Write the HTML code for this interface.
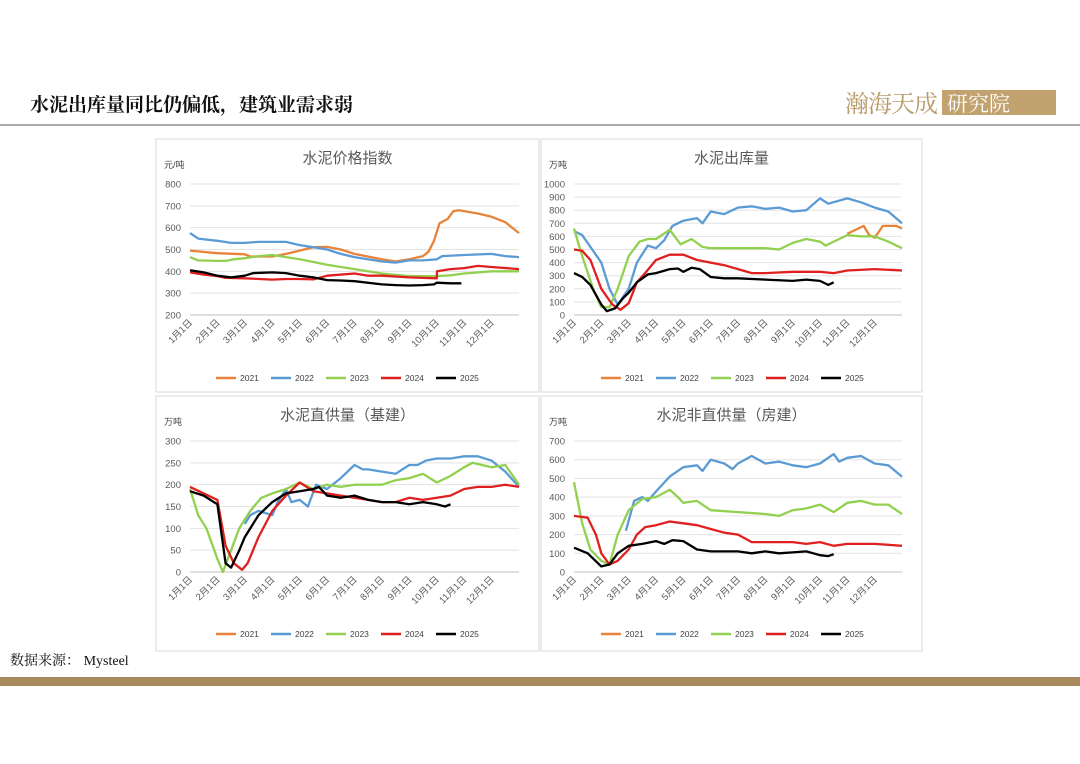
<!DOCTYPE html><html><head><meta charset="utf-8"><style>
body{margin:0;width:1080px;height:764px;background:#fff;overflow:hidden;font-family:"Liberation Sans","Noto Sans CJK SC",sans-serif}
</style></head><body>
<svg id="s" width="1080" height="764" xmlns="http://www.w3.org/2000/svg" style="position:absolute;left:0;top:0">
<text x="30" y="111" font-family="Noto Serif CJK SC,serif" font-size="19" font-weight="bold" fill="#111">水泥出库量同比仍偏低，建筑业需求弱</text>
<text x="845" y="112" font-family="Noto Serif CJK SC,serif" font-size="24" fill="#b89a6a" letter-spacing="-1">瀚海天成</text>
<rect x="942" y="90" width="114" height="25" fill="#c2a36f"/>
<text x="947" y="111" font-family="Noto Serif CJK SC,serif" font-size="21" fill="#fff">研究院</text>
<rect x="0" y="124" width="1080" height="2" fill="#aaa"/>
<text x="10" y="665" font-family="Noto Serif CJK SC,serif" font-size="14" fill="#111">数据来源： <tspan font-family="Liberation Serif">Mysteel</tspan></text>
<rect x="0" y="677" width="1080" height="9" fill="#a68a5e"/>
<g id="g"></g>
</svg>
<script>
var C={2021:'#E8833A',2022:'#5B9BD5',2023:'#92D050',2024:'#E02020',2025:'#000'};
var charts=[
{px:156,py:139,pw:383,ph:253,x0:190,x1:519,yt:184,yb:315,max:800,min:200,step:100,unit:'元/吨',title:'水泥价格指数',leg:378,
d:{2021:[[0,495],[1,483],[2,478],[2.2,468],[3,468],[3.5,480],[4,495],[4.5,510],[5,512],[5.5,500],[6,480],[7,455],[7.5,445],[8,455],[8.5,470],[8.7,490],[8.9,540],[9.1,620],[9.4,640],[9.6,675],[9.8,680],[10.5,665],[11,650],[11.5,625],[12,575]],
2022:[[0,575],[0.3,550],[1,540],[1.5,530],[2,530],[2.5,535],[3,535],[3.5,535],[4,520],[4.5,510],[5,500],[5.5,480],[6,465],[7,445],[7.5,440],[8,450],[8.5,450],[9,455],[9.2,470],[10,475],[11,480],[11.5,470],[12,465]],
2023:[[0,465],[0.3,450],[1,448],[1.3,448],[1.6,455],[2,460],[2.5,470],[3,475],[3.5,465],[4,455],[5,430],[5.5,420],[6,410],[7,390],[8,378],[9,378],[9.5,382],[10,390],[11,400],[12,400]],
2024:[[0,395],[0.5,385],[1,378],[1.3,370],[2,368],[3,362],[3.5,365],[4,365],[4.5,363],[5,380],[6,390],[6.5,380],[7,380],[8,372],[8.5,370],[9,368],[9.01,400],[9.5,410],[10,415],[10.5,425],[11,420],[12,410]],
2025:[[0,405],[0.5,395],[1,380],[1.5,372],[2,380],[2.3,392],[3,395],[3.5,392],[4,380],[4.5,372],[5,360],[5.5,358],[6,355],[7,340],[7.5,337],[8,335],[8.5,337],[8.9,340],[9,348],[9.5,345],[9.9,345]]}},
{px:541,py:139,pw:381,ph:253,x0:574,x1:902,yt:184,yb:315,max:1000,min:0,step:100,unit:'万吨',title:'水泥出库量',leg:378,
d:{2021:[[10,620],[10.6,680],[10.8,610],[11,590],[11.3,680],[11.8,680],[12,660]],
2022:[[0,640],[0.3,610],[0.6,520],[1,400],[1.3,200],[1.6,80],[2,200],[2.3,400],[2.7,530],[3,510],[3.3,570],[3.6,680],[4,720],[4.5,740],[4.7,700],[5,790],[5.5,770],[6,820],[6.5,830],[7,810],[7.5,820],[8,790],[8.5,800],[9,890],[9.3,850],[10,890],[10.5,860],[11,820],[11.5,790],[12,700]],
2023:[[0,660],[0.3,450],[0.7,200],[1,60],[1.3,60],[1.6,200],[2,450],[2.4,560],[2.7,580],[3,580],[3.5,650],[3.9,540],[4.3,580],[4.7,520],[5,510],[6,510],[7,510],[7.5,500],[8,550],[8.5,580],[9,560],[9.2,530],[10,610],[10.5,600],[11,600],[11.5,560],[12,510]],
2024:[[0,500],[0.3,490],[0.6,420],[1,200],[1.4,80],[1.7,40],[2,90],[2.3,250],[2.6,320],[3,420],[3.5,460],[4,460],[4.5,420],[5,400],[5.5,380],[6,350],[6.5,320],[7,320],[8,330],[9,330],[9.5,320],[10,340],[11,350],[12,340]],
2025:[[0,320],[0.3,290],[0.6,230],[1,80],[1.2,30],[1.5,50],[1.8,130],[2,170],[2.3,250],[2.7,310],[3,320],[3.5,350],[3.8,355],[4,330],[4.3,360],[4.6,350],[5,290],[5.5,280],[6,280],[7,270],[8,260],[8.5,270],[9,260],[9.3,230],[9.5,250]]}},
{px:156,py:396,pw:383,ph:255,x0:190,x1:519,yt:441,yb:572,max:300,min:0,step:50,unit:'万吨',title:'水泥直供量（基建）',leg:634,
d:{2022:[[2,110],[2.2,130],[2.5,140],[3,130],[3.2,160],[3.5,190],[3.7,160],[4,165],[4.3,150],[4.6,200],[5,190],[5.5,215],[6,245],[6.3,235],[6.5,235],[7,230],[7.5,225],[8,245],[8.3,245],[8.6,255],[9,260],[9.5,260],[10,265],[10.5,265],[11,255],[11.5,230],[12,195]],
2023:[[0,190],[0.3,130],[0.6,100],[1,30],[1.2,0],[1.5,50],[1.8,100],[2.2,140],[2.6,170],[3,180],[3.5,190],[4,205],[4.5,190],[5,200],[5.5,195],[6,200],[7,200],[7.5,210],[8,215],[8.5,225],[9,205],[9.5,220],[10,240],[10.3,250],[11,240],[11.5,245],[12,200]],
2024:[[0,195],[0.5,180],[1,165],[1.3,60],[1.6,20],[1.9,5],[2.1,20],[2.5,80],[3,140],[3.5,175],[4,205],[4.5,185],[5,180],[5.5,175],[6,170],[6.5,165],[7,160],[7.5,160],[8,170],[8.5,165],[9,170],[9.5,175],[10,190],[10.5,195],[11,195],[11.5,200],[12,195]],
2025:[[0,185],[0.5,175],[1,155],[1.3,20],[1.5,10],[1.8,50],[2,80],[2.5,130],[3,160],[3.5,180],[4,185],[4.5,190],[4.7,195],[5,175],[5.5,170],[6,175],[6.5,165],[7,160],[7.5,160],[8,155],[8.5,160],[9,155],[9.3,150],[9.5,155]]}},
{px:541,py:396,pw:381,ph:255,x0:574,x1:902,yt:441,yb:572,max:700,min:0,step:100,unit:'万吨',title:'水泥非直供量（房建）',leg:634,
d:{2022:[[1.9,220],[2.2,380],[2.5,400],[2.7,380],[3,430],[3.5,510],[4,560],[4.5,570],[4.7,540],[5,600],[5.5,580],[5.8,550],[6,580],[6.5,620],[7,580],[7.5,590],[8,570],[8.5,560],[9,580],[9.5,630],[9.7,590],[10,610],[10.5,620],[11,580],[11.5,570],[12,510]],
2023:[[0,480],[0.3,260],[0.6,120],[1,60],[1.3,40],[1.6,200],[2,330],[2.5,390],[3,400],[3.5,440],[3.8,400],[4,370],[4.5,380],[5,330],[6,320],[7,310],[7.5,300],[8,330],[8.5,340],[9,360],[9.5,320],[10,370],[10.5,380],[11,360],[11.5,360],[12,310]],
2024:[[0,300],[0.5,290],[0.8,200],[1,100],[1.3,40],[1.6,60],[2,120],[2.3,200],[2.6,240],[3,250],[3.5,270],[4,260],[4.5,250],[5,230],[5.5,210],[6,200],[6.5,160],[7,160],[8,160],[8.5,150],[9,160],[9.5,140],[10,150],[11,150],[12,140]],
2025:[[0,130],[0.5,100],[1,30],[1.3,40],[1.6,100],[2,140],[2.5,150],[3,165],[3.3,150],[3.6,170],[4,165],[4.5,120],[5,110],[6,110],[6.5,100],[7,110],[7.5,100],[8,105],[8.5,110],[9,90],[9.3,85],[9.5,95]]}}
];
var h='';
charts.forEach(function(c){
 h+='<rect x="'+c.px+'" y="'+c.py+'" width="'+c.pw+'" height="'+c.ph+'" fill="#fff" stroke="#d9d9d9"/>';
 h+='<text x="'+(c.px+c.pw/2)+'" y="'+(c.py+24)+'" text-anchor="middle" font-size="15" fill="#595959">'+c.title+'</text>';
 h+='<text x="'+(c.px+8)+'" y="'+(c.py+29)+'" font-size="9" fill="#404040">'+c.unit+'</text>';
 var n=(c.max-c.min)/c.step;
 for(var i=0;i<=n;i++){var y=c.yb-(c.yb-c.yt)*i/n;
  h+='<line x1="'+c.x0+'" x2="'+c.x1+'" y1="'+y+'" y2="'+y+'" stroke="'+(i==0?'#bfbfbf':'#e3e3e3')+'" stroke-width="1"/>';
  h+='<text x="'+(c.x0-9)+'" y="'+(y+3.5)+'" text-anchor="end" font-size="9.5" fill="#595959">'+(c.min+c.step*i)+'</text>';}
 var sx=(c.x1-c.x0)/12;
 for(var m=0;m<12;m++){var x=c.x0+m*sx;
  h+='<text transform="translate('+(x+3)+','+(c.yb+8)+') rotate(-45)" text-anchor="end" font-size="9.5" fill="#595959">'+(m+1)+'月1日</text>';}
 [2021,2022,2023,2024,2025].forEach(function(yr){var d=c.d[yr];if(!d)return;
  var p=d.map(function(q){return (c.x0+q[0]*sx).toFixed(1)+','+(c.yb-(q[1]-c.min)/(c.max-c.min)*(c.yb-c.yt)).toFixed(1)}).join(' ');
  h+='<polyline points="'+p+'" fill="none" stroke="'+C[yr]+'" stroke-width="2.3" stroke-linejoin="round"/>';});
 var lx=c.px+60;
 [2021,2022,2023,2024,2025].forEach(function(yr,k){var x=lx+k*55;
  h+='<line x1="'+x+'" x2="'+(x+20)+'" y1="'+c.leg+'" y2="'+c.leg+'" stroke="'+C[yr]+'" stroke-width="2.5"/>';
  h+='<text x="'+(x+24)+'" y="'+(c.leg+3)+'" font-size="8.5" fill="#404040">'+yr+'</text>';});
});
document.getElementById('g').innerHTML=h;
</script>
</body></html>
